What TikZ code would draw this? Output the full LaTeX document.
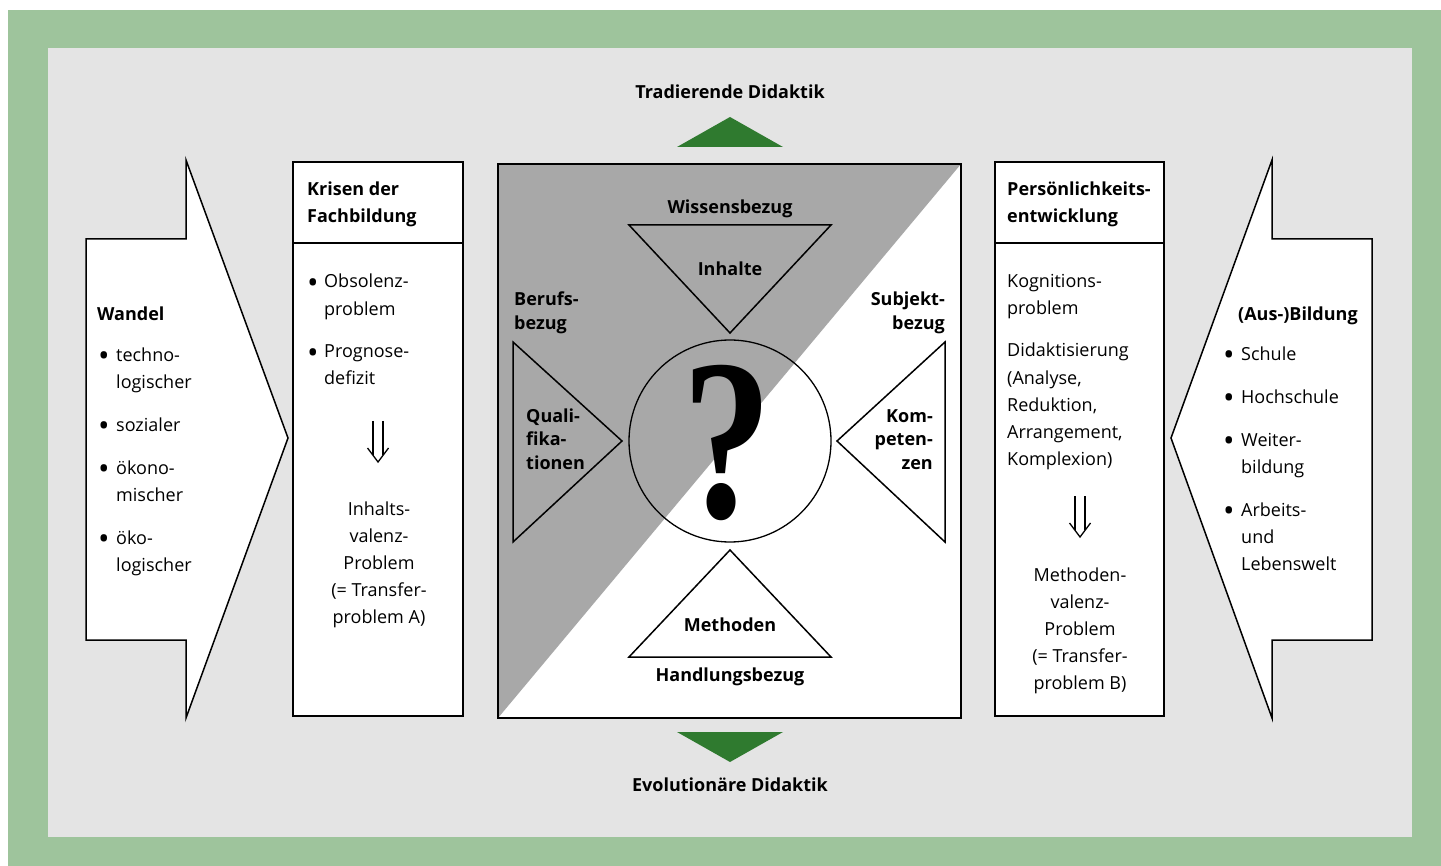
\documentclass[tikz,border=0pt]{standalone}
\usepackage{fontspec}
\setmainfont{Open Sans}
\newfontfamily\qfont{Liberation Serif}
\definecolor{framegreen}{RGB}{158,196,156}
\definecolor{panelgrey}{RGB}{228,228,228}
\definecolor{midgrey}{RGB}{168,168,168}
\definecolor{darkgreen}{RGB}{47,122,47}
\newcommand\bigbul{\hspace*{-2pt}\raisebox{-0.62ex}{\scalebox{1.7}{\textbullet}}}
\newcommand\blt{\makebox[15pt][l]{\bigbul}}
\newcommand\bind{\hspace*{15pt}}
\newcommand\bltw{\makebox[16pt][l]{\bigbul}}
\newcommand\bindw{\hspace*{16pt}}
\begin{document}
\begin{tikzpicture}[x=1pt,y=-1pt,
  shapeline/.style={draw=black, line width=1.5pt, line join=miter},
  txt/.style={inner sep=0pt, font=\fontsize{18}{27}\selectfont, align=left, text=black},
  boldtxt/.style={inner sep=0pt, font=\fontsize{18}{27}\selectfont\bfseries, align=left, text=black},
  dblarrow/.pic={
    \draw[line width=1.3pt] (-5,-20) -- (-5,14) (5,-20) -- (5,14);
    \draw[line width=1.3pt, line join=miter] (-10.5,7) -- (0,21) -- (10.5,7);
  }]
\useasboundingbox (0,0) rectangle (1441,866);
\fill[framegreen] (8,10) rectangle (1441,866);
\fill[panelgrey] (48,48) rectangle (1412,837);

% left big arrow
\filldraw[fill=white, shapeline] (86,239) -- (186,239) -- (186,160) -- (288,438) -- (186,718) -- (186,640) -- (86,640) -- cycle;
% right big arrow
\filldraw[fill=white, shapeline] (1372,239) -- (1272,239) -- (1272,160) -- (1171,438) -- (1272,718) -- (1272,640) -- (1372,640) -- cycle;

% Krisen box
\filldraw[fill=white, shapeline] (293,162) rectangle (463,716);
\draw[shapeline] (293,243) -- (463,243);
% Persoenlichkeit box
\filldraw[fill=white, shapeline] (995,162) rectangle (1164,716);
\draw[shapeline] (995,243) -- (1164,243);

% center box
\fill[white] (498,164) rectangle (961,718);
\fill[midgrey] (498,164) -- (961,164) -- (498,718) -- cycle;
\draw[shapeline] (498,164) rectangle (961,718);

% green triangles
\fill[darkgreen] (677,147) -- (730,117) -- (783,147) -- cycle;
\fill[darkgreen] (677,732) -- (783,732) -- (730,762) -- cycle;

% inner shapes
\draw[shapeline] (629,225) -- (831,225) -- (730,333) -- cycle;
\draw[shapeline] (513,342) -- (622,441) -- (513,542) -- cycle;
\draw[shapeline] (945,342) -- (837,441) -- (945,542) -- cycle;
\draw[shapeline] (730,550) -- (831,657) -- (629,657) -- cycle;
\node[circle, draw=black, line width=1.3pt, minimum size=202pt, inner sep=0pt] (qcircle) at (730,441) {};
\node[anchor=base, inner sep=0pt, font=\fontsize{230}{230}\qfont\bfseries] (qmark) at (727,517) {\scalebox{0.78}[1]{?}};

% center texts
\node[boldtxt, anchor=base] (trad) at (730,99) {Tradierende Didaktik};
\node[boldtxt, anchor=base] (evol) at (730,791) {Evolutionäre Didaktik};
\node[boldtxt, anchor=base] (wissen) at (730,214) {Wissensbezug};
\node[boldtxt, anchor=base] (inhalte) at (730,276) {Inhalte};
\node[boldtxt, anchor=base west, font=\fontsize{18}{24}\selectfont\bfseries] (beruf) at (514,330) {Berufs-\\bezug};
\node[boldtxt, anchor=base east, align=right, font=\fontsize{18}{24}\selectfont\bfseries] (subjekt) at (945,330) {Subjekt-\\bezug};
\node[boldtxt, anchor=base west, font=\fontsize{18}{23.5}\selectfont\bfseries] (quali) at (526,469) {Quali-\\fika-\\tionen};
\node[boldtxt, anchor=base east, align=right, font=\fontsize{18}{23.5}\selectfont\bfseries] (kompet) at (933,469) {Kom-\\peten-\\zen};
\node[boldtxt, anchor=base] (methoden) at (730,631) {Methoden};
\node[boldtxt, anchor=base] (handlung) at (730,681) {Handlungsbezug};

% left arrow texts
\node[boldtxt, anchor=base west] (wandel) at (97,321) {Wandel};
\node[txt, anchor=base west] (wandellist) at (100,571) {\bltw techno-\\\bindw logischer\\[16pt]\bltw sozialer\\[16pt]\bltw ökono-\\\bindw mischer\\[16pt]\bltw öko-\\\bindw logischer};

% Krisen texts
\node[boldtxt, anchor=base west] (krisenhead) at (307,223) {Krisen der\\Fachbildung};
\node[txt, anchor=base west] (krisenlist) at (309,385) {\blt Obsolenz-\\\bind problem\\[16pt]\blt Prognose-\\\bind defizit};
\pic at (378,441) {dblarrow};
\node[txt, anchor=base, align=center] (inhaltsval) at (379,623) {Inhalts-\\valenz-\\Problem\\(= Transfer-\\problem A)};

% Persoenlichkeit texts
\node[boldtxt, anchor=base west] (pershead) at (1007,223) {Persönlichkeits-\\entwicklung};
\node[txt, anchor=base west] (perslist) at (1007,465) {Kognitions-\\problem\\[16pt]Didaktisierung\\(Analyse,\\Reduktion,\\Arrangement,\\Komplexion)};
\pic at (1080,516) {dblarrow};
\node[txt, anchor=base, align=center] (methval) at (1080,689) {Methoden-\\valenz-\\Problem\\(= Transfer-\\problem B)};

% right arrow texts
\node[boldtxt, anchor=base west] (ausbildung) at (1238,321) {(Aus-)Bildung};
\node[txt, anchor=base west] (auslist) at (1225,570) {\bltw Schule\\[16pt]\bltw Hochschule\\[16pt]\bltw Weiter-\\\bindw bildung\\[16pt]\bltw Arbeits-\\\bindw und\\\bindw Lebenswelt};
\end{tikzpicture}
\end{document}
